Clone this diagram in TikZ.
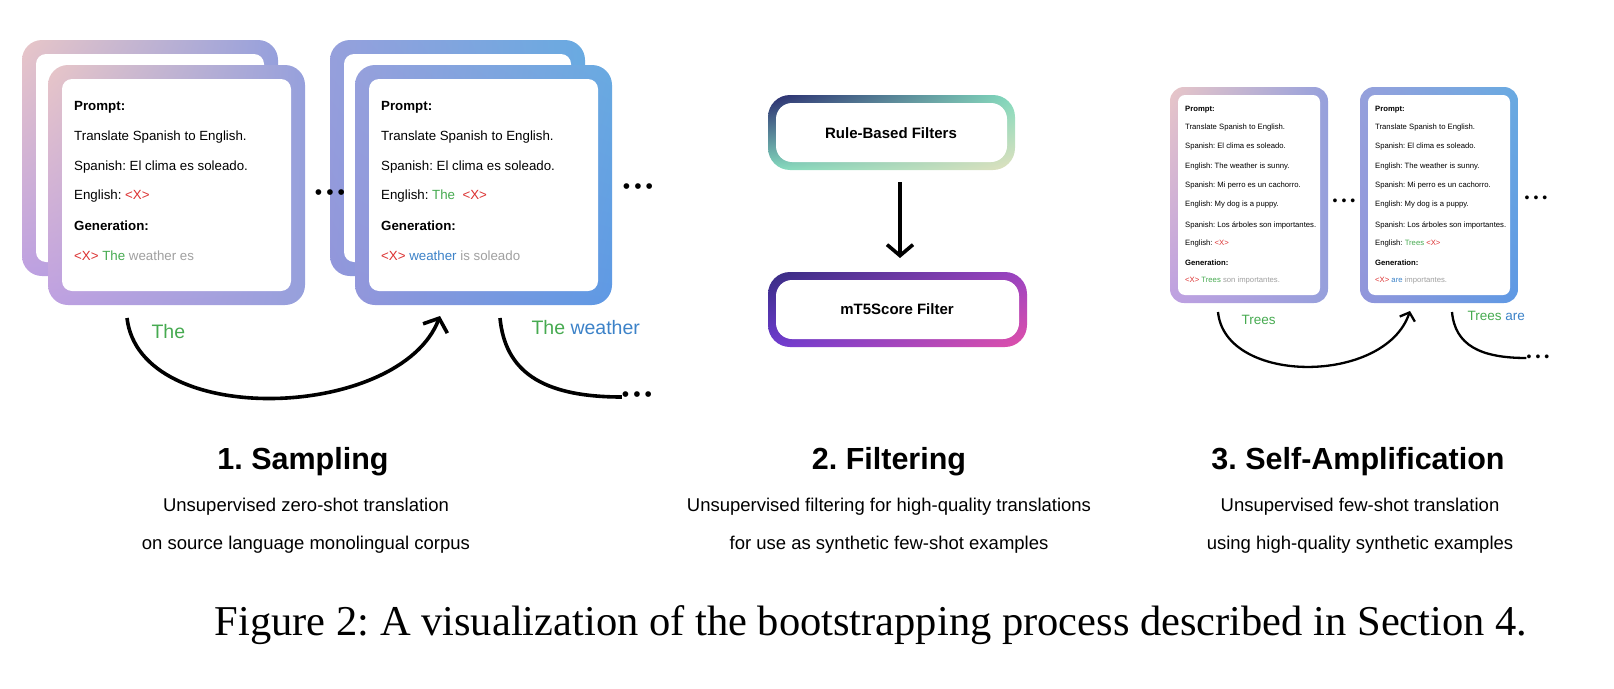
\documentclass[tikz,border=0pt]{standalone}
\usepackage{fontspec}
\setmainfont{Liberation Serif}
\newfontfamily\sansf{Liberation Sans}
\usetikzlibrary{arrows.meta,positioning,shadings}
\frenchspacing
\definecolor{peach}{RGB}{232,198,200}
\definecolor{lilac}{RGB}{190,160,225}
\definecolor{periw}{RGB}{150,160,220}
\definecolor{skyb}{RGB}{105,170,225}
\definecolor{navy}{RGB}{40,40,110}
\definecolor{mint}{RGB}{130,220,190}
\definecolor{sand}{RGB}{225,225,190}
\definecolor{violet}{RGB}{110,60,210}
\definecolor{pinkm}{RGB}{225,80,170}
\definecolor{gengreen}{RGB}{70,170,80}
\definecolor{genblue}{RGB}{60,130,200}
\definecolor{genred}{RGB}{220,50,50}
\definecolor{gengray}{RGB}{160,160,160}
\newcommand{\tdots}{\textbullet\hspace{4pt}\textbullet\hspace{4pt}\textbullet}
\tikzset{
  inner/.style={fill=white, rounded corners=10pt},
  txt/.style={anchor=west, inner sep=0pt, font=\sansf\fontsize{13.3}{15}\selectfont},
  small/.style={anchor=west, inner sep=0pt, font=\sansf\fontsize{7.7}{9}\selectfont},
  title/.style={font=\sansf\bfseries\fontsize{30.5}{33}\selectfont},
  sub/.style={font=\sansf\fontsize{18.5}{21}\selectfont},
  loop/.style={line width=3.6pt, -{Straight Barb[length=11pt,width=26pt,line width=3.6pt]}},
  tail/.style={line width=3.6pt},
  dots/.style={inner sep=0pt, font=\sansf\fontsize{21}{21}\selectfont}
}
\begin{document}
\begin{tikzpicture}[x=1pt,y=-1pt]
  \useasboundingbox (0,0) rectangle (1614,688);

  % Sampling cards
  \shade[rounded corners=20pt, upper left=peach, upper right=periw, lower left=lilac, lower right=periw] (22,40) rectangle (278,276);
  \fill[inner] (36,54) rectangle (264,262);
  \shade[rounded corners=20pt, upper left=peach, upper right=periw, lower left=lilac, lower right=periw] (48,65) rectangle (305,305);
  \fill[inner] (62,79) rectangle (291,291);
  \node[txt] (pa) at (74,107) {\bfseries Prompt:};
  \node[txt] at (74,137) {Translate Spanish to English.};
  \node[txt] at (74,167) {Spanish: El clima es soleado.};
  \node[txt] at (74,196) {English: \textcolor{genred}{<X>}};
  \node[txt] at (74,226) {\bfseries Generation:};
  \node[txt] at (74,256) {\textcolor{genred}{<X>}\ \textcolor{gengreen}{The}\ \textcolor{gengray}{weather es}};

  \shade[rounded corners=20pt, upper left=periw, upper right=skyb, lower left=periw!90!violet, lower right=skyb] (330,40) rectangle (585,276);
  \fill[inner] (344,54) rectangle (571,262);
  \shade[rounded corners=20pt, upper left=periw, upper right=skyb, lower left=periw!90!violet, lower right=skyb!90!blue] (355,65) rectangle (612,305);
  \fill[inner] (369,79) rectangle (598,291);
  \node[txt] (pb) at (381,107) {\bfseries Prompt:};
  \node[txt] at (381,137) {Translate Spanish to English.};
  \node[txt] at (381,167) {Spanish: El clima es soleado.};
  \node[txt] at (381,196) {English: \textcolor{gengreen}{The}\ \ \textcolor{genred}{<X>}};
  \node[txt] at (381,226) {\bfseries Generation:};
  \node[txt] at (381,256) {\textcolor{genred}{<X>}\ \textcolor{genblue}{weather}\ \textcolor{gengray}{is soleado}};

  \node[dots] (d1) at (330,195) {\tdots};
  \node[dots] (d2) at (638,189) {\tdots};

  % Sampling loop
  \coordinate (s1) at (127,318);
  \coordinate (s2) at (440,316);
  \coordinate (s3) at (500,318);
  \node[dots] (d3) at (637,397) {\tdots};
  \draw[loop] (s1) .. controls (140,430) and (400,420) .. (s2);
  \draw[tail] (s3) .. controls (505,370) and (540,397) .. (d3.west);
  \node[anchor=west, font=\sansf\fontsize{19.5}{20}\selectfont, text=gengreen] at (148,332) {The};
  \node[anchor=west, font=\sansf\fontsize{19.5}{20}\selectfont] at (528,328) {\textcolor{gengreen}{The}\ \textcolor{genblue}{weather}};

  % Filters
  \shade[rounded corners=22pt, upper left=navy, upper right=mint, lower left=mint, lower right=sand] (768,95) rectangle (1015,170);
  \fill[white, rounded corners=16pt] (776,103) rectangle (1007,162);
  \node[font=\sansf\bfseries\fontsize{15}{17}\selectfont] (rb) at (891,133) {Rule-Based Filters};
  \shade[rounded corners=22pt, upper left=navy!80!violet, upper right=violet!60!pinkm, lower left=violet, lower right=pinkm] (768,272) rectangle (1027,347);
  \fill[white, rounded corners=16pt] (776,280) rectangle (1019,339);
  \node[font=\sansf\bfseries\fontsize{15}{17}\selectfont] (mt) at (897,309) {mT5Score Filter};
  \coordinate (fa) at (900,182);
  \coordinate (fb) at (900,258);
  \draw[loop] (fa) -- (fb);

  % Self-amplification cards
  \shade[rounded corners=14pt, upper left=peach, upper right=periw, lower left=lilac, lower right=periw] (1170,87) rectangle (1328,303);
  \fill[white, rounded corners=7pt] (1178,95) rectangle (1320,295);
  \shade[rounded corners=14pt, upper left=periw, upper right=skyb, lower left=periw!90!violet, lower right=skyb!90!blue] (1360,87) rectangle (1518,303);
  \fill[white, rounded corners=7pt] (1368,95) rectangle (1510,295);
  \foreach \x/\e/\g in {1185/{\textcolor{genred}{<X>}}/{\textcolor{gengreen}{Trees}\ \textcolor{gengray}{son importantes.}},
                        1375/{\textcolor{gengreen}{Trees}\ \textcolor{genred}{<X>}}/{\textcolor{genblue}{are}\ \textcolor{gengray}{importantes.}}}{
    \node[small] at (\x,110) {\bfseries Prompt:};
    \node[small] at (\x,128) {Translate Spanish to English.};
    \node[small] at (\x,147) {Spanish: El clima es soleado.};
    \node[small] at (\x,167) {English: The weather is sunny.};
    \node[small] at (\x,186) {Spanish: Mi perro es un cachorro.};
    \node[small] at (\x,205) {English: My dog is a puppy.};
    \node[small] at (\x,225) {Spanish: Los árboles son importantes.};
    \node[small] at (\x,244) {English: \e};
    \node[small] at (\x,263) {\bfseries Generation:};
    \node[small] at (\x,281) {\textcolor{genred}{<X>}\ \g};
  }
  \node[dots, font=\sansf\fontsize{14}{14}\selectfont] (d4) at (1344,202) {\tdots};
  \node[dots, font=\sansf\fontsize{14}{14}\selectfont] (d5) at (1536,199) {\tdots};
  \coordinate (a1) at (1218,312);
  \coordinate (a2) at (1410,311);
  \coordinate (a3) at (1452,312);
  \node[dots, font=\sansf\fontsize{14}{14}\selectfont] (d6) at (1538,358) {\tdots};
  \draw[loop, line width=2.3pt, -{Straight Barb[length=7pt,width=16pt,line width=2.3pt]}] (a1) .. controls (1225,385) and (1385,385) .. (a2);
  \draw[tail, line width=2.3pt] (a3) .. controls (1455,345) and (1480,358) .. (d6.west);
  \node[anchor=west, font=\sansf\fontsize{13.5}{14}\selectfont, text=gengreen] at (1238,320) {Trees};
  \node[anchor=west, font=\sansf\fontsize{13.5}{14}\selectfont] at (1464,316) {\textcolor{gengreen}{Trees}\ \textcolor{genblue}{are}};

  % Titles
  \node[title] (t1) at (303,462) {1. Sampling};
  \node[sub] at (306,507) {Unsupervised zero-shot translation};
  \node[sub] at (306,545) {on source language monolingual corpus};
  \node[title] (t2) at (889,462) {2. Filtering};
  \node[sub] at (889,507) {Unsupervised filtering for high-quality translations};
  \node[sub] at (889,545) {for use as synthetic few-shot examples};
  \node[title] (t3) at (1358,462) {3. Self-Amplification};
  \node[sub] at (1360,507) {Unsupervised few-shot translation};
  \node[sub] at (1360,545) {using high-quality synthetic examples};

  \node[font=\fontsize{42.5}{45}\selectfont] (cap) at (871,625) {Figure 2: A visualization of the bootstrapping process described in Section 4.};
\end{tikzpicture}
\end{document}
